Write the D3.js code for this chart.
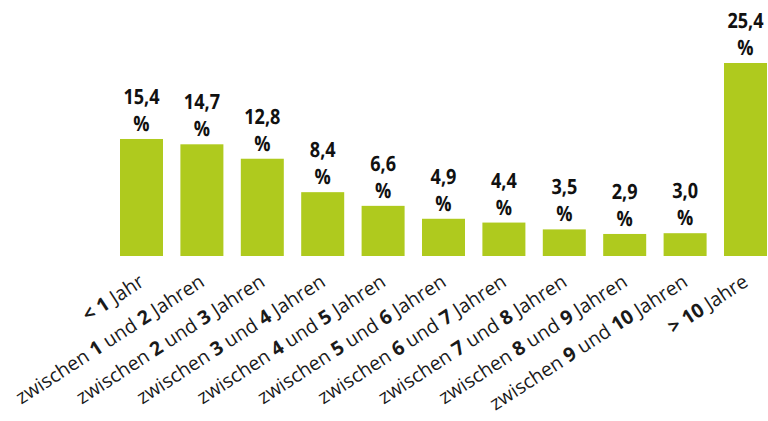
<!DOCTYPE html>
<html>
<head>
<meta charset="utf-8">
<script src="https://cdn.jsdelivr.net/npm/d3@7"></script>
<style>
  html, body { margin: 0; padding: 0; background: #fff; }
  svg { display: block; text-rendering: geometricPrecision; }
  .tick-label { font-family: "Open Sans", sans-serif; font-size: 19.5px; fill: #1a1a1a; }
  .value-label { font-family: "Open Sans", sans-serif; font-weight: 700; font-size: 21px; fill: #111; }
</style>
</head>
<body>
<svg id="chart" width="768" height="421"></svg>
<script>
// Duration categories (numbers and comparison signs are set in bold)
const categories = [
  "< 1 Jahr",
  "zwischen 1 und 2 Jahren",
  "zwischen 2 und 3 Jahren",
  "zwischen 3 und 4 Jahren",
  "zwischen 4 und 5 Jahren",
  "zwischen 5 und 6 Jahren",
  "zwischen 6 und 7 Jahren",
  "zwischen 7 und 8 Jahren",
  "zwischen 8 und 9 Jahren",
  "zwischen 9 und 10 Jahren",
  "> 10 Jahre"
];

// Share per category, in percent
const values = [15.4, 14.7, 12.8, 8.4, 6.6, 4.9, 4.4, 3.5, 2.9, 3.0, 25.4];

// Value labels as printed above the bars
const valueLabels = ["15,4", "14,7", "12,8", "8,4", "6,6", "4,9", "4,4", "3,5", "2,9", "3,0", "25,4"];

const svg = d3.select("#chart");
const baseline = 256;
const barColor = "#afca1e";

const x = d3.scaleBand()
  .domain(categories)
  .range([120, 767])
  .paddingInner(0.288)
  .paddingOuter(0);

const y = d3.scaleLinear()
  .domain([0, 25.4])
  .range([baseline, 63]);

// Bars
svg.append("g")
  .selectAll("rect")
  .data(categories)
  .join("rect")
  .attr("x", d => x(d))
  .attr("y", (d, i) => y(values[i]))
  .attr("width", x.bandwidth())
  .attr("height", (d, i) => baseline - y(values[i]))
  .attr("fill", barColor);

// Value labels: number on the first line, percent sign below
const vl = svg.append("g")
  .selectAll("text")
  .data(categories)
  .join("text")
  .attr("class", "value-label")
  .attr("text-anchor", "middle")
  .attr("transform", (d, i) => `translate(${x(d) + x.bandwidth() / 2},${y(values[i]) - 8}) scale(0.86,1)`);

vl.append("tspan")
  .attr("x", 0)
  .attr("y", -27)
  .text((d, i) => valueLabels[i]);

vl.append("tspan")
  .attr("x", 0)
  .attr("y", 0)
  .text("%");

// Rotated category axis labels
const xAxis = d3.axisBottom(x).tickSize(0).tickFormat("");
const axisG = svg.append("g")
  .attr("transform", `translate(0,${baseline})`)
  .call(xAxis);
axisG.select(".domain").remove();

axisG.selectAll(".tick")
  .append("text")
  .attr("class", "tick-label")
  .attr("text-anchor", "end")
  .attr("transform", "translate(4,29) rotate(-33)")
  .each(function(d) {
    const t = d3.select(this);
    const tokens = d.split(" ");
    tokens.forEach((tok, k) => {
      t.append("tspan")
        .attr("font-weight", /^[<>\d]+$/.test(tok) ? 700 : 400)
        .text((k > 0 ? " " : "") + tok);
    });
  });
</script>
</body>
</html>
